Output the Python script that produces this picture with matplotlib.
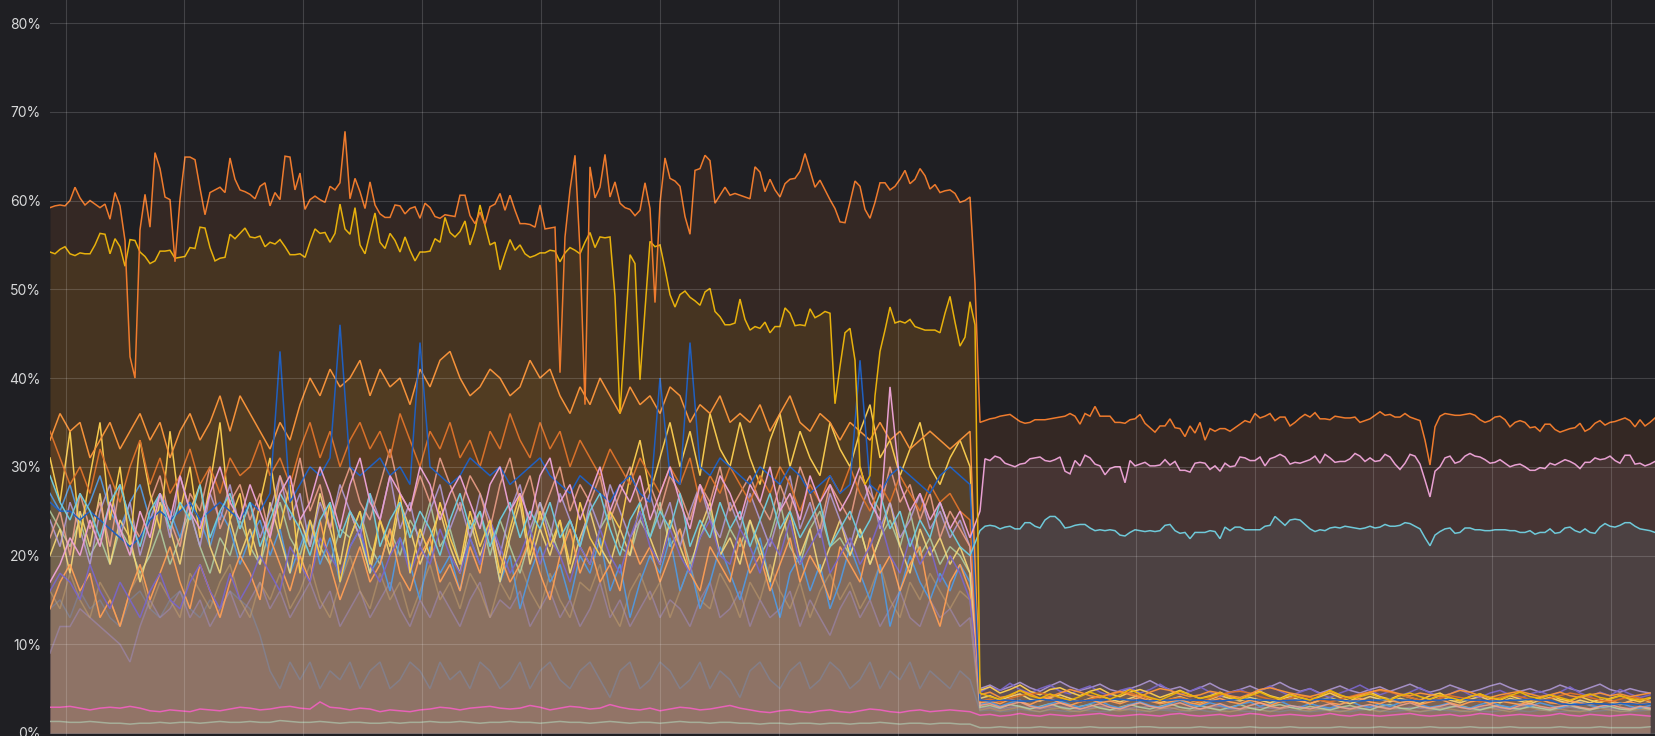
import numpy as np
import matplotlib.pyplot as plt

# time axis: one step = 5 px of the panel, drop happens between t=185 and t=186
t_fine_l = np.arange(0, 186)
t_fine_r = np.arange(186, 322)
t_coarse_l = np.arange(0, 186, 2)
t_coarse_r = np.arange(186, 322, 2)

# ---------------- prominent series
top_orange_l = [
    59.2, 59.4, 59.5, 59.4, 60.0, 61.5, 60.3, 59.5, 60.0, 59.6,
    59.2, 59.6, 57.9, 60.9, 59.4, 55.5, 42.4, 40.0, 56.7, 60.7,
    57.0, 65.4, 63.6, 60.4, 60.1, 53.1, 60.1, 64.9, 64.9, 64.6,
    61.4, 58.4, 60.9, 61.2, 61.5, 60.9, 64.8, 62.4, 61.2, 61.0,
    60.7, 60.2, 61.6, 62.0, 59.4, 60.9, 60.1, 65.0, 64.9, 61.2,
    63.1, 59.0, 60.1, 60.5, 60.1, 59.8, 61.6, 61.2, 62.0, 67.8,
    60.2, 62.5, 61.0, 59.1, 62.1, 59.5, 58.5, 58.1, 58.1, 59.5,
    59.4, 58.5, 59.1, 59.3, 58.0, 59.7, 59.2, 58.2, 58.0, 58.4,
    58.3, 58.2, 60.6, 60.6, 58.3, 57.4, 58.7, 57.3, 59.3, 59.6,
    60.8, 58.9, 60.6, 58.9, 57.4, 57.4, 57.3, 57.0, 59.5, 56.8,
    56.9, 57.0, 40.6, 55.9, 61.2, 65.1, 54.4, 37.0, 63.8, 60.3,
    61.5, 65.2, 60.4, 62.1, 59.7, 59.2, 59.0, 58.3, 58.9, 62.0,
    59.1, 48.5, 59.7, 64.8, 62.5, 62.2, 61.6, 58.2, 56.2, 63.4,
    63.6, 65.1, 64.5, 59.7, 60.6, 61.5, 60.6, 60.8, 60.6, 60.4,
    60.2, 63.8, 63.2, 61.0, 62.4, 61.2, 60.4, 61.9, 62.4, 62.5,
    63.3, 65.3, 63.4, 61.5, 62.3, 61.2, 60.1, 59.1, 57.6, 57.5,
    59.8, 62.2, 61.6, 59.0, 58.0, 59.8, 62.0, 62.0, 61.2, 61.6,
    62.4, 63.4, 61.9, 62.4, 63.6, 62.8, 61.3, 61.8, 60.9, 61.1,
    61.2, 60.8, 59.8, 60.0, 60.4, 50.7]
top_orange_r = [
    35.0, 35.2, 35.4, 35.5, 35.7, 35.8, 35.9, 35.5, 35.1, 34.9,
    35.0, 35.3, 35.3, 35.3, 35.4, 35.5, 35.6, 35.7, 36.0, 35.7,
    34.8, 36.0, 35.7, 36.8, 35.7, 35.7, 35.7, 35.0, 35.0, 34.9,
    35.3, 35.4, 35.9, 34.9, 34.4, 33.9, 34.6, 34.6, 35.4, 34.4,
    34.3, 33.4, 34.6, 33.8, 35.0, 33.0, 34.3, 34.0, 34.3, 34.3,
    34.0, 34.4, 34.8, 35.2, 35.0, 36.0, 35.5, 35.7, 36.0, 35.2,
    35.6, 35.6, 34.6, 35.0, 35.5, 35.9, 35.6, 36.1, 35.4, 35.4,
    35.3, 35.7, 35.6, 35.5, 35.5, 35.6, 35.0, 35.2, 35.4, 35.8,
    36.2, 35.8, 35.9, 35.6, 35.6, 36.0, 35.6, 35.4, 35.2, 33.0,
    30.2, 34.5, 35.7, 36.0, 35.9, 35.8, 35.8, 35.9, 36.0, 35.8,
    35.3, 35.0, 35.2, 35.6, 35.7, 35.3, 34.5, 35.0, 35.2, 35.0,
    34.4, 34.5, 34.0, 34.8, 34.8, 34.2, 33.9, 34.1, 34.3, 34.4,
    34.9, 34.0, 34.3, 34.9, 35.2, 34.7, 35.0, 35.1, 35.3, 35.5,
    35.2, 34.5, 35.3, 34.6, 35.0, 35.5]

yellow_l = [
    54.2, 54.0, 54.5, 54.8, 54.0, 53.8, 54.1, 54.0, 54.0, 55.0,
    56.3, 56.2, 54.0, 55.7, 54.8, 52.6, 55.6, 55.5, 54.2, 53.7,
    52.9, 53.2, 54.3, 54.3, 54.4, 53.5, 53.6, 53.7, 54.7, 54.6,
    57.0, 56.9, 54.7, 53.2, 53.5, 53.6, 56.2, 55.7, 56.3, 56.9,
    55.9, 55.8, 56.0, 54.8, 55.3, 55.1, 55.6, 54.8, 53.9, 53.9,
    54.0, 53.6, 55.3, 56.8, 56.3, 56.4, 55.3, 56.3, 59.6, 56.8,
    56.2, 59.2, 55.0, 54.0, 56.3, 58.6, 55.3, 54.6, 56.3, 55.5,
    54.2, 55.9, 54.4, 53.2, 54.2, 54.2, 54.3, 55.7, 55.3, 58.1,
    56.4, 55.9, 56.5, 57.7, 55.0, 56.7, 59.5, 57.2, 55.0, 55.3,
    52.2, 54.0, 55.6, 54.4, 55.0, 54.0, 53.6, 53.8, 54.1, 54.1,
    54.4, 54.3, 53.1, 54.1, 54.7, 54.4, 54.0, 55.3, 56.4, 54.7,
    55.9, 55.8, 55.9, 49.2, 36.0, 45.0, 53.9, 52.9, 39.8, 47.7,
    55.4, 54.8, 55.0, 52.3, 49.4, 48.0, 49.4, 49.8, 49.1, 48.7,
    48.2, 49.7, 50.1, 47.5, 46.9, 46.0, 46.0, 46.2, 48.9, 46.6,
    45.4, 45.8, 45.6, 46.3, 45.1, 45.8, 45.8, 47.9, 47.3, 45.9,
    46.0, 45.9, 47.8, 46.8, 47.1, 47.5, 47.3, 37.1, 41.3, 45.1,
    45.6, 42.0, 30.0, 28.0, 29.0, 38.0, 43.0, 45.4, 48.0, 46.2,
    46.4, 46.2, 46.6, 45.8, 45.6, 45.4, 45.4, 45.4, 45.1, 47.3,
    49.2, 46.3, 43.6, 44.6, 48.6, 46.0]
yellow_r = [
    4.5, 4.1, 3.8, 4.3, 4.8, 4.2, 3.9, 4.4, 4.0, 3.7,
    4.1, 4.6, 4.2, 3.8, 4.3, 4.9, 4.4, 4.0, 3.7, 4.2,
    4.7, 4.3, 3.9, 4.1, 4.5, 4.0, 3.8, 4.2, 4.6, 4.1,
    3.8, 4.3, 4.0, 3.7, 4.2, 4.8, 4.3, 3.9, 4.1, 4.4,
    4.0, 3.7, 4.2, 4.5, 4.1, 3.8, 4.3, 4.0, 3.7, 4.1,
    4.4, 4.0, 3.8, 4.2, 4.6, 4.1, 3.9, 4.3, 4.0, 3.7,
    4.1, 4.4, 4.0, 3.8, 4.2, 3.9, 3.7, 4.0]

pink_l = [
    17, 19, 22, 20, 24, 21, 26, 23, 20, 25,
    22, 27, 24, 29, 25, 23, 27, 30, 26, 24,
    28, 25, 22, 27, 29, 24, 26, 30, 27, 23,
    28, 31, 26, 24, 29, 27, 25, 30, 28, 24,
    27, 29, 26, 23, 28, 30, 25, 27, 24, 29,
    31, 26, 28, 24, 27, 30, 25, 28, 26, 29,
    24, 27, 30, 26, 23, 28, 25, 29, 27, 24,
    28, 26, 30, 25, 27, 24, 29, 26, 28, 25,
    27, 30, 26, 24, 39, 28, 25, 27, 24, 26,
    23, 25, 22]
pink_r = [
    25.0, 30.9, 30.7, 31.2, 31.0, 30.4, 30.2, 30.0, 30.3, 30.4,
    30.9, 31.0, 31.1, 30.7, 30.6, 30.8, 31.1, 29.5, 29.2, 30.7,
    30.1, 31.3, 31.0, 30.3, 30.1, 29.1, 29.8, 30.0, 30.0, 28.2,
    30.7, 30.1, 30.3, 30.5, 30.1, 30.1, 30.2, 30.8, 30.2, 30.6,
    29.6, 29.6, 29.4, 30.4, 30.5, 30.4, 29.7, 30.1, 29.5, 30.4,
    30.0, 30.1, 31.1, 31.0, 30.7, 30.7, 31.1, 30.1, 30.9, 31.1,
    31.4, 31.1, 30.3, 30.5, 30.4, 30.6, 30.8, 31.2, 30.4, 31.4,
    31.0, 30.5, 30.6, 30.6, 30.9, 31.5, 31.2, 30.6, 31.0, 30.6,
    30.7, 31.4, 31.1, 30.3, 29.7, 30.4, 31.4, 31.2, 30.3, 28.5,
    26.6, 29.5, 30.0, 31.0, 31.2, 30.4, 30.6, 31.2, 31.5, 31.2,
    31.1, 30.8, 30.4, 30.5, 30.8, 30.4, 30.0, 30.2, 30.3, 30.0,
    29.6, 29.6, 29.9, 29.8, 30.4, 30.2, 30.5, 30.8, 30.6, 30.3,
    29.8, 30.5, 30.5, 31.0, 30.8, 30.9, 31.2, 30.7, 30.4, 31.3,
    31.3, 30.3, 30.4, 30.1, 30.3, 30.6]

cyan_l = [
    29, 26, 24, 27, 25, 22, 26, 28, 24, 21,
    25, 27, 23, 26, 24, 28, 22, 25, 27, 23,
    26, 21, 24, 27, 25, 23, 20, 24, 26, 22,
    25, 23, 27, 21, 24, 26, 22, 25, 23, 20,
    24, 27, 23, 25, 21, 24, 26, 22, 25, 23,
    26, 22, 24, 21, 25, 27, 23, 20, 24, 26,
    22, 25, 23, 27, 21, 24, 22, 26, 23, 25,
    21, 24, 27, 23, 25, 22, 24, 26, 21, 23,
    25, 22, 24, 27, 23, 25, 21, 24, 22, 26,
    23, 21, 20]
cyan_r = [
    22.8, 23.3, 23.4, 23.3, 23.0, 23.2, 23.3, 23.0, 23.0, 23.7,
    23.7, 23.3, 23.1, 24.0, 24.4, 24.4, 23.9, 23.1, 23.2, 23.4,
    23.5, 23.5, 23.1, 22.8, 22.9, 22.8, 22.9, 22.8, 22.3, 22.2,
    22.6, 22.9, 22.8, 22.7, 22.8, 22.7, 22.8, 23.4, 23.5, 22.8,
    22.5, 22.6, 21.9, 22.6, 22.6, 22.6, 22.8, 22.7, 21.9, 23.2,
    22.8, 23.2, 23.2, 22.9, 22.9, 22.9, 22.9, 23.3, 23.4, 24.4,
    23.9, 23.4, 24.0, 24.1, 24.0, 23.5, 23.0, 22.7, 22.9, 22.8,
    23.1, 23.2, 23.1, 23.3, 23.2, 23.1, 23.0, 23.1, 23.3, 23.1,
    23.2, 23.5, 23.3, 23.3, 23.4, 23.7, 23.6, 23.3, 23.0, 22.0,
    21.1, 22.3, 22.7, 23.0, 23.1, 22.5, 22.6, 23.1, 23.1, 22.9,
    22.9, 22.8, 22.8, 22.9, 22.9, 22.9, 22.8, 22.8, 22.6, 22.6,
    22.8, 22.4, 22.6, 22.6, 23.0, 22.5, 22.6, 23.1, 23.2, 22.8,
    22.6, 23.0, 22.6, 22.5, 23.2, 23.6, 23.3, 23.2, 23.4, 23.7,
    23.7, 23.3, 23.0, 22.9, 22.8, 22.6]

# ---------------- the busy bundle (estimated)
orange2_l = [
    33, 36, 34, 35, 31, 33, 35, 32, 34, 36,
    33, 35, 31, 34, 36, 33, 35, 38, 34, 38,
    36, 34, 32, 35, 33, 37, 40, 38, 41, 39,
    40, 42, 38, 41, 39, 40, 37, 41, 39, 42,
    43, 40, 38, 39, 41, 40, 38, 39, 42, 40,
    41, 38, 36, 39, 37, 40, 38, 36, 39, 37,
    38, 36, 39, 38, 35, 37, 36, 38, 35, 36,
    35, 37, 34, 36, 38, 35, 34, 36, 35, 33,
    35, 34, 33, 35, 33, 34, 32, 33, 34, 33,
    32, 33, 34]
orange2_r = [
    4.3, 4.6, 4.0, 4.2, 4.8, 4.4, 3.9, 4.1, 4.5, 4.9,
    4.6, 4.2, 4.0, 4.4, 4.7, 4.3, 4.1, 4.6, 5.0, 4.8,
    4.4, 4.1, 4.3, 4.7, 4.5, 4.2, 4.0, 4.4, 4.9, 5.1,
    4.8, 4.5, 4.3, 4.1, 4.4, 4.7, 4.2, 4.0, 4.3, 4.6,
    4.9, 4.7, 4.4, 4.2, 4.5, 4.3, 4.1, 4.4, 4.8, 4.6,
    4.2, 4.0, 4.3, 4.5, 4.7, 4.4, 4.1, 4.3, 4.6, 4.2,
    4.0, 4.3, 4.5, 4.2, 4.4, 4.1, 4.3, 4.5]

orange3_l = [
    34, 31, 28, 30, 27, 32, 29, 26, 30, 33,
    28, 31, 27, 29, 32, 28, 30, 27, 31, 29,
    30, 33, 29, 31, 28, 32, 35, 31, 34, 30,
    33, 35, 32, 34, 31, 36, 33, 30, 34, 32,
    35, 31, 33, 30, 34, 32, 36, 33, 31, 35,
    32, 34, 30, 33, 31, 29, 32, 30, 28, 31,
    29, 27, 30, 28, 31, 26, 29, 27, 30, 28,
    26, 29, 27, 30, 28, 25, 28, 26, 29, 27,
    30, 27, 25, 28, 26, 29, 27, 25, 28, 26,
    27, 25, 24]
orange3_r = [
    3.6, 3.8, 3.5, 3.9, 4.2, 4.4, 4.5, 4.3, 4.0, 3.7,
    3.5, 3.8, 4.1, 4.4, 4.6, 4.5, 4.2, 3.9, 3.6, 3.8,
    4.0, 3.7, 3.5, 3.9, 4.3, 4.6, 4.7, 4.5, 4.1, 3.8,
    3.6, 3.9, 4.2, 4.0, 3.7, 3.5, 3.8, 4.1, 4.4, 4.6,
    4.8, 4.6, 4.3, 4.0, 3.7, 3.6, 3.9, 4.2, 4.0, 3.8,
    3.5, 3.7, 4.0, 4.3, 4.1, 3.8, 3.6, 3.9, 4.2, 4.5,
    4.3, 4.0, 3.7, 3.5, 3.8, 4.1, 3.9, 3.6]

yellow2_l = [
    31, 26, 34, 22, 29, 35, 24, 30, 21, 33,
    27, 23, 34, 25, 30, 22, 28, 35, 24, 27,
    20, 26, 31, 23, 28, 18, 24, 20, 26, 17,
    22, 25, 19, 24, 21, 27, 18, 23, 20, 26,
    22, 19, 25, 21, 24, 18, 23, 27, 20, 25,
    21, 24, 19, 26, 22, 20, 25, 23, 29, 33,
    27, 31, 35, 30, 34, 29, 36, 32, 30, 35,
    31, 28, 33, 36, 30, 34, 31, 29, 35, 32,
    30, 34, 37, 31, 33, 29, 32, 35, 30, 28,
    31, 33, 30]
yellow2_r = [
    4.8, 5.2, 4.5, 4.9, 5.4, 4.7, 4.3, 4.9, 5.1, 4.6,
    4.2, 4.7, 5.0, 4.4, 4.1, 4.6, 4.9, 4.5, 4.0, 4.4,
    4.8, 4.3, 3.9, 4.2, 4.6, 4.1, 3.8, 4.3, 4.7, 4.2,
    3.9, 4.4, 4.0, 3.7, 4.1, 4.5, 4.0, 3.6, 4.2, 4.6,
    4.1, 3.8, 4.3, 4.0, 3.7, 4.2, 4.5, 3.9, 3.6, 4.1,
    4.4, 3.9, 3.7, 4.2, 3.8, 3.5, 4.0, 4.3, 3.8, 3.6,
    4.1, 3.7, 3.4, 3.9, 4.2, 3.8, 3.5, 3.9]

blue_l = [
    26, 25, 25, 24, 25, 24, 23, 22, 21, 22,
    24, 25, 24, 25, 26, 24, 25, 26, 25, 24,
    26, 25, 27, 43, 26, 28, 30, 29, 31, 46,
    30, 29, 30, 31, 29, 30, 28, 44, 30, 29,
    28, 29, 31, 30, 29, 30, 28, 29, 30, 31,
    29, 28, 27, 29, 28, 27, 26, 28, 29, 27,
    26, 40, 29, 28, 44, 30, 29, 31, 30, 29,
    28, 30, 29, 28, 30, 29, 27, 28, 29, 27,
    28, 42, 28, 27, 29, 30, 29, 28, 27, 29,
    30, 29, 28]
blue_r = [
    3.7, 3.6, 3.7, 3.7, 3.6, 3.6, 3.8, 3.7, 3.7, 3.6,
    3.6, 3.7, 3.7, 3.8, 3.8, 3.7, 3.7, 3.6, 3.7, 3.7,
    3.8, 3.7, 3.7, 3.6, 3.6, 3.7, 3.8, 3.8, 3.7, 3.7,
    3.6, 3.7, 3.7, 3.7, 3.8, 3.8, 3.7, 3.6, 3.6, 3.7,
    3.7, 3.8, 3.7, 3.7, 3.6, 3.7, 3.7, 3.8, 3.8, 3.7,
    3.7, 3.6, 3.6, 3.7, 3.7, 3.8, 3.7, 3.7, 3.3, 3.2,
    3.2, 3.3, 3.3, 3.2, 3.3, 3.3, 3.2, 3.3]

violet_l = [
    16, 18, 17, 15, 19, 16, 14, 17, 15, 13,
    16, 18, 15, 14, 17, 19, 16, 14, 18, 15,
    17, 20, 18, 16, 21, 19, 17, 22, 20, 18,
    21, 23, 19, 17, 20, 22, 18, 21, 19, 23,
    20, 18, 22, 19, 24, 21, 18, 20, 23, 19,
    22, 20, 17, 21, 19, 23, 20, 18, 22, 25,
    21, 19, 23, 20, 18, 22, 24, 20, 19, 23,
    21, 18, 22, 20, 24, 19, 21, 23, 18, 20,
    22, 19, 21, 24, 20, 18, 22, 19, 21, 17,
    20, 18, 15]
violet_r = [
    4.6, 5.2, 4.8, 5.6, 4.9, 4.5, 5.0, 5.4, 4.7, 4.4,
    4.9, 5.3, 4.6, 4.2, 4.8, 5.1, 4.5, 4.9, 5.5, 4.8,
    4.3, 4.7, 5.2, 4.6, 4.1, 4.5, 4.9, 4.4, 4.8, 5.3,
    4.7, 4.2, 4.6, 5.0, 4.4, 4.0, 4.5, 4.9, 5.4, 4.8,
    4.3, 4.7, 4.2, 4.6, 5.1, 4.5, 4.1, 4.4, 4.9, 4.3,
    4.0, 4.5, 4.8, 4.3, 3.9, 4.4, 4.7, 4.2, 4.6, 5.2,
    4.5, 4.1, 4.6, 4.2, 4.9, 4.4, 4.0, 4.3]

lviolet_l = [
    24, 21, 26, 23, 19, 25, 28, 22, 26, 20,
    24, 27, 22, 29, 25, 21, 27, 24, 28, 23,
    26, 22, 25, 29, 24, 27, 21, 26, 23, 28,
    25, 22, 27, 24, 29, 23, 26, 21, 25, 28,
    23, 26, 22, 27, 24, 20, 25, 28, 23, 26,
    22, 27, 24, 21, 26, 23, 28, 25, 22, 24,
    27, 23, 26, 21, 25, 28, 24, 22, 26, 23,
    27, 24, 21, 25, 29, 23, 26, 22, 27, 24,
    21, 25, 28, 23, 26, 22, 24, 27, 23, 25,
    22, 24, 21]
lviolet_r = [
    5.0, 5.4, 4.8, 5.2, 5.7, 5.1, 4.7, 5.3, 5.8, 5.2,
    4.8, 5.1, 5.5, 4.9, 4.6, 5.0, 5.4, 5.9, 5.3, 4.9,
    5.2, 4.7, 5.1, 5.6, 5.0, 4.6, 4.9, 5.3, 4.8, 5.2,
    5.7, 5.1, 4.7, 5.0, 4.5, 4.9, 5.3, 4.8, 4.5, 4.9,
    5.2, 4.7, 5.1, 5.5, 5.0, 4.6, 4.9, 5.4, 5.0, 4.6,
    4.9, 5.3, 5.6, 5.1, 4.7, 5.0, 4.6, 4.9, 5.4, 5.0,
    4.7, 5.1, 5.5, 4.9, 4.6, 5.0, 4.7, 4.5]

lorange_l = [
    14, 17, 19, 16, 18, 13, 15, 12, 16, 19,
    15, 18, 21, 17, 14, 19, 16, 13, 17, 20,
    18, 15, 22, 19, 16, 20, 17, 24, 19, 15,
    18, 21, 17, 19, 23, 18, 16, 20, 22, 17,
    19, 16, 21, 18, 24, 20, 17, 19, 22, 18,
    15, 20, 23, 18, 21, 17, 19, 16, 22, 19,
    21, 17, 20, 23, 18, 16, 21, 19, 17, 22,
    18, 20, 16, 19, 22, 17, 20, 18, 15, 21,
    19, 17, 22, 18, 20, 16, 19, 21, 15, 12,
    17, 19, 16]
lorange_r = [
    3.4, 3.6, 3.3, 3.8, 3.5, 3.2, 3.7, 3.9, 3.4, 3.1,
    3.5, 3.8, 3.4, 3.6, 3.3, 3.7, 4.0, 3.6, 3.3, 3.5,
    3.8, 3.4, 3.2, 3.6, 3.9, 3.5, 3.3, 3.7, 3.4, 3.1,
    3.5, 3.8, 3.6, 3.3, 3.7, 3.4, 3.2, 3.6, 3.9, 3.5,
    3.3, 3.7, 3.4, 3.6, 3.2, 3.5, 3.8, 3.4, 3.1, 3.5,
    3.7, 3.3, 3.6, 3.4, 3.2, 3.6, 3.8, 3.4, 3.3, 3.6,
    3.4, 3.2, 3.5, 3.7, 3.3, 3.5, 3.2, 3.4]

lyellow_l = [
    20, 23, 18, 25, 21, 27, 19, 24, 22, 17,
    21, 26, 23, 19, 25, 28, 21, 18, 24, 20,
    23, 19, 26, 22, 18, 24, 21, 27, 23, 19,
    25, 22, 18, 24, 20, 26, 23, 19, 22, 25,
    21, 18, 24, 20, 23, 17, 22, 26, 19, 23,
    20, 24, 18, 22, 25, 21, 19, 23, 20, 26,
    22, 19, 24, 21, 18, 23, 26, 20, 22, 19,
    24, 21, 17, 22, 25, 20, 23, 18, 21, 24,
    20, 23, 19, 22, 26, 21, 18, 23, 20, 22,
    19, 21, 18]
lyellow_r = [
    3.9, 4.2, 3.7, 4.1, 4.4, 3.8, 3.6, 4.0, 4.3, 3.9,
    3.5, 3.9, 4.2, 3.8, 3.5, 3.9, 4.3, 3.8, 3.4, 3.8,
    4.1, 3.7, 3.4, 3.8, 4.2, 3.9, 3.6, 4.0, 3.7, 3.4,
    3.8, 4.1, 3.7, 3.3, 3.7, 4.0, 3.6, 3.3, 3.7, 4.1,
    3.8, 3.5, 3.9, 3.6, 3.3, 3.8, 4.2, 3.7, 3.4, 3.8,
    4.1, 3.7, 3.4, 3.9, 3.6, 3.3, 3.7, 4.0, 3.6, 3.3,
    3.7, 3.4, 3.8, 3.5, 3.2, 3.6, 3.9, 3.5]

skyblue_l = [
    27, 25, 28, 24, 26, 29, 25, 23, 26, 28,
    24, 27, 25, 22, 26, 24, 21, 25, 23, 19,
    22, 24, 20, 23, 18, 21, 24, 19, 22, 17,
    21, 23, 18, 20, 16, 22, 19, 15, 21, 18,
    20, 16, 22, 19, 23, 17, 20, 14, 18, 21,
    17, 19, 15, 20, 18, 22, 16, 19, 13, 17,
    20, 18, 22, 16, 19, 14, 17, 21, 18, 15,
    19, 22, 17, 13, 18, 20, 16, 19, 14, 17,
    21, 18, 15, 19, 12, 16, 20, 17, 15, 18,
    16, 19, 17]
skyblue_r = [
    3.2, 3.5, 3.0, 3.4, 3.7, 3.1, 2.9, 3.3, 3.6, 3.2,
    2.9, 3.3, 3.6, 3.1, 2.8, 3.2, 3.5, 3.1, 2.9, 3.3,
    3.7, 3.2, 3.0, 3.4, 3.1, 2.8, 3.2, 3.5, 3.0, 3.3,
    3.6, 3.1, 2.9, 3.3, 3.0, 2.8, 3.2, 3.6, 3.1, 2.9,
    3.3, 3.0, 3.4, 3.7, 3.2, 2.9, 3.1, 3.4, 3.0, 2.8,
    3.2, 3.5, 3.1, 2.9, 3.3, 3.0, 3.4, 3.1, 2.8, 3.2,
    3.5, 3.1, 2.9, 3.2, 3.4, 3.0, 2.8, 3.1]

salmon_l = [
    22, 25, 20, 27, 23, 26, 21, 28, 24, 22,
    26, 29, 24, 21, 27, 25, 30, 23, 26, 28,
    24, 27, 22, 29, 26, 31, 25, 28, 23, 27,
    30, 26, 24, 28, 32, 27, 25, 29, 26, 31,
    28, 25, 29, 27, 23, 28, 31, 26, 29, 24,
    27, 30, 25, 28, 26, 29, 24, 27, 30, 26,
    28, 25, 29, 27, 24, 28, 26, 30, 25, 27,
    29, 26, 24, 28, 25, 30, 27, 23, 28, 26,
    24, 29, 27, 25, 30, 26, 28, 24, 27, 22,
    25, 23, 21]
salmon_r = [
    3.1, 3.3, 2.9, 3.2, 3.5, 3.0, 2.8, 3.1, 3.4, 3.0,
    2.7, 3.0, 3.3, 2.9, 2.7, 3.1, 3.4, 3.0, 2.8, 3.1,
    3.4, 3.0, 2.7, 3.0, 3.3, 2.9, 2.7, 3.1, 3.4, 3.0,
    2.8, 3.1, 2.9, 2.7, 3.0, 3.3, 2.9, 2.7, 3.0, 3.2,
    2.9, 2.7, 3.1, 3.4, 3.0, 2.8, 3.0, 3.3, 2.9, 2.7,
    3.0, 3.2, 2.9, 2.7, 3.1, 3.3, 3.0, 2.8, 3.0, 3.2,
    2.9, 2.7, 3.0, 3.2, 2.9, 2.7, 3.0, 2.8]

pgreen_l = [
    25, 23, 21, 24, 20, 22, 19, 23, 21, 18,
    20, 23, 19, 22, 25, 21, 18, 22, 20, 24,
    21, 19, 23, 26, 22, 20, 24, 21, 19, 23,
    22, 25, 21, 19, 23, 20, 24, 22, 26, 21,
    23, 19, 22, 25, 20, 24, 21, 18, 22, 26,
    23, 20, 24, 21, 19, 23, 25, 21, 20, 24,
    22, 26, 21, 23, 19, 22, 25, 20, 23, 21,
    24, 20, 22, 26, 21, 19, 23, 25, 21, 22,
    20, 23, 19, 22, 24, 21, 25, 20, 22, 19,
    21, 20, 18]
pgreen_r = [
    2.9, 3.1, 2.8, 3.2, 3.0, 2.7, 3.0, 3.3, 2.9, 2.7,
    3.0, 3.2, 2.8, 2.6, 2.9, 3.2, 2.9, 2.7, 3.0, 3.3,
    2.9, 2.7, 3.1, 2.8, 2.6, 2.9, 3.2, 2.8, 2.6, 3.0,
    3.2, 2.9, 2.7, 3.0, 2.8, 2.6, 2.9, 3.1, 2.8, 2.6,
    3.0, 3.2, 2.8, 2.7, 3.0, 2.8, 2.6, 2.9, 3.1, 2.8,
    2.6, 2.9, 3.1, 2.8, 2.7, 3.0, 2.8, 2.6, 2.9, 3.1,
    2.8, 2.6, 2.9, 3.0, 2.7, 2.6, 2.9, 2.7]

mauve_l = [
    9, 12, 12, 14, 13, 12, 11, 10, 8, 12,
    15, 13, 14, 16, 13, 15, 12, 14, 16, 13,
    15, 17, 14, 16, 13, 15, 17, 14, 16, 12,
    14, 16, 13, 15, 17, 14, 12, 15, 13, 16,
    14, 12, 15, 17, 13, 15, 14, 16, 12, 14,
    16, 13, 15, 12, 14, 17, 13, 15, 12, 14,
    16, 13, 15, 14, 12, 15, 17, 13, 14, 16,
    12, 15, 13, 14, 16, 12, 15, 13, 11, 14,
    16, 13, 15, 12, 14, 16, 13, 12, 15, 13,
    14, 12, 13]
mauve_r = [
    2.8, 2.9, 2.7, 2.9, 3.0, 2.8, 2.7, 2.9, 3.0, 2.8,
    2.7, 2.8, 3.0, 2.9, 2.7, 2.8, 2.9, 3.0, 2.8, 2.7,
    2.9, 2.8, 2.7, 2.9, 3.0, 2.8, 2.7, 2.8, 2.9, 2.8,
    2.7, 2.9, 3.0, 2.8, 2.7, 2.8, 2.9, 2.8, 2.7, 2.9,
    3.0, 2.8, 2.7, 2.9, 2.8, 2.7, 2.8, 3.0, 2.9, 2.7,
    2.8, 2.9, 2.8, 2.7, 2.9, 3.0, 2.8, 2.7, 2.8, 2.9,
    2.8, 2.7, 2.9, 2.8, 2.7, 2.8, 2.9, 2.8]

greyblue_l = [
    14, 15, 13, 16, 14, 15, 13, 12, 15, 16,
    14, 13, 15, 16, 14, 13, 15, 14, 16, 15,
    14, 11, 7, 5, 8, 6, 8, 5, 7, 6,
    8, 5, 7, 8, 5, 6, 8, 7, 5, 8,
    6, 7, 5, 8, 7, 5, 6, 8, 5, 7,
    8, 6, 5, 7, 8, 6, 4, 7, 8, 5,
    6, 8, 7, 5, 6, 8, 5, 7, 6, 4,
    7, 8, 6, 5, 7, 8, 5, 6, 8, 7,
    5, 6, 8, 5, 7, 6, 8, 5, 7, 6,
    5, 7, 6]
greyblue_r = [
    2.5, 2.6, 2.4, 2.5, 2.7, 2.5, 2.4, 2.6, 2.5, 2.4,
    2.6, 2.5, 2.4, 2.5, 2.7, 2.6, 2.4, 2.5, 2.6, 2.5,
    2.4, 2.5, 2.6, 2.4, 2.5, 2.7, 2.5, 2.4, 2.6, 2.5,
    2.4, 2.6, 2.5, 2.4, 2.5, 2.6, 2.5, 2.4, 2.6, 2.7,
    2.5, 2.4, 2.5, 2.6, 2.4, 2.5, 2.6, 2.5, 2.4, 2.6,
    2.5, 2.4, 2.5, 2.7, 2.5, 2.4, 2.6, 2.5, 2.4, 2.5,
    2.6, 2.4, 2.5, 2.6, 2.5, 2.4, 2.5, 2.6]

tan_l = [
    16, 14, 18, 15, 13, 17, 15, 12, 16, 18,
    14, 17, 15, 13, 18, 16, 14, 17, 19, 15,
    13, 17, 15, 18, 14, 16, 19, 15, 13, 17,
    20, 16, 14, 18, 15, 17, 13, 16, 19, 15,
    17, 14, 18, 16, 13, 17, 15, 19, 16, 14,
    18, 15, 13, 17, 16, 19, 14, 12, 16, 18,
    15, 17, 13, 16, 19, 15, 14, 18, 16, 13,
    17, 15, 19, 16, 14, 17, 13, 16, 18, 15,
    17, 14, 16, 19, 15, 13, 17, 15, 18, 16,
    14, 16, 15]
tan_r = [
    2.6, 2.8, 2.5, 2.7, 2.9, 2.6, 2.4, 2.7, 2.8, 2.5,
    2.4, 2.7, 2.9, 2.6, 2.5, 2.7, 2.6, 2.4, 2.7, 2.9,
    2.6, 2.5, 2.7, 2.8, 2.5, 2.4, 2.6, 2.8, 2.6, 2.4,
    2.7, 2.9, 2.6, 2.5, 2.7, 2.5, 2.4, 2.6, 2.8, 2.6,
    2.4, 2.7, 2.8, 2.5, 2.4, 2.6, 2.8, 2.7, 2.5, 2.4,
    2.6, 2.8, 2.6, 2.4, 2.7, 2.9, 2.6, 2.5, 2.7, 2.5,
    2.4, 2.6, 2.8, 2.6, 2.4, 2.5, 2.7, 2.6]

bpink_l = [
    2.9, 2.9, 3.0, 2.8, 2.6, 2.8, 2.9, 2.8, 3.0, 2.8,
    2.5, 2.4, 2.6, 2.5, 2.4, 2.7, 2.6, 2.5, 2.7, 2.9,
    2.8, 2.6, 2.7, 2.9, 3.0, 2.8, 2.7, 3.5, 2.9, 2.8,
    2.6, 2.8, 2.7, 2.4, 2.6, 2.5, 2.4, 2.6, 2.7, 2.9,
    2.8, 2.6, 2.8, 2.9, 3.0, 2.8, 2.7, 2.8, 3.1, 2.9,
    2.6, 2.8, 3.0, 2.9, 2.7, 2.8, 3.2, 2.9, 2.7, 2.6,
    2.8, 2.5, 2.7, 2.9, 2.8, 2.6, 2.7, 2.9, 3.1, 2.8,
    2.6, 2.4, 2.3, 2.5, 2.6, 2.4, 2.3, 2.5, 2.6, 2.4,
    2.3, 2.5, 2.7, 2.6, 2.4, 2.3, 2.5, 2.6, 2.4, 2.5,
    2.6, 2.5, 2.4]
bpink_r = [
    2.0, 2.1, 1.9, 2.0, 2.2, 2.0, 1.9, 2.1, 2.0, 1.9,
    2.0, 2.1, 2.2, 2.0, 1.9, 2.0, 2.1, 2.0, 1.9, 2.1,
    2.2, 2.0, 1.9, 2.0, 2.1, 1.9, 2.0, 2.2, 2.1, 1.9,
    2.0, 2.1, 2.0, 1.9, 2.0, 2.2, 2.0, 1.9, 2.1, 2.0,
    1.9, 2.0, 2.1, 2.2, 2.0, 1.9, 2.0, 2.1, 1.9, 2.0,
    2.2, 2.1, 1.9, 2.0, 2.1, 2.0, 1.9, 2.0, 2.2, 2.0,
    1.9, 2.1, 2.0, 1.9, 2.0, 2.1, 2.0, 1.9]

bgrey_l = [
    1.3, 1.3, 1.2, 1.2, 1.3, 1.2, 1.1, 1.1, 1.0, 1.1,
    1.1, 1.2, 1.1, 1.2, 1.2, 1.1, 1.2, 1.3, 1.2, 1.2,
    1.3, 1.2, 1.2, 1.4, 1.3, 1.2, 1.2, 1.3, 1.2, 1.1,
    1.2, 1.2, 1.1, 1.1, 1.2, 1.1, 1.2, 1.2, 1.3, 1.2,
    1.2, 1.3, 1.2, 1.1, 1.2, 1.2, 1.3, 1.2, 1.2, 1.1,
    1.2, 1.3, 1.2, 1.2, 1.1, 1.2, 1.3, 1.2, 1.1, 1.2,
    1.2, 1.1, 1.2, 1.3, 1.2, 1.2, 1.1, 1.2, 1.2, 1.1,
    1.1, 1.0, 1.1, 1.1, 1.0, 1.1, 1.1, 1.0, 1.1, 1.1,
    1.0, 1.1, 1.1, 1.2, 1.1, 1.0, 1.1, 1.1, 1.0, 1.1,
    1.1, 1.0, 1.0]
bgrey_r = [
    0.6, 0.6, 0.7, 0.6, 0.6, 0.6, 0.7, 0.6, 0.6, 0.6,
    0.6, 0.7, 0.6, 0.6, 0.6, 0.6, 0.7, 0.7, 0.6, 0.6,
    0.6, 0.6, 0.7, 0.6, 0.6, 0.6, 0.6, 0.7, 0.6, 0.6,
    0.6, 0.7, 0.6, 0.6, 0.6, 0.6, 0.7, 0.6, 0.6, 0.6,
    0.7, 0.6, 0.6, 0.6, 0.6, 0.7, 0.6, 0.6, 0.6, 0.7,
    0.6, 0.6, 0.6, 0.7, 0.6, 0.6, 0.6, 0.6, 0.7, 0.6,
    0.6, 0.6, 0.7, 0.6, 0.6, 0.6, 0.6, 0.7]

y_ticks = [0, 10, 20, 30, 40, 50, 60, 70, 80]

BG = '#1f1f23'

# (left, right, colour, line alpha, fill alpha) for the bundle, drawn back to front
bundle = [
    (bgrey_l, bgrey_r, '#a9b59f', 0.9, 0.1),
    (bpink_l, bpink_r, '#e862b8', 1.0, 0.1),
    (greyblue_l, greyblue_r, '#7e8aa8', 0.55, 0.09),
    (mauve_l, mauve_r, '#a08ab8', 0.6, 0.1),
    (tan_l, tan_r, '#c8a470', 0.5, 0.03),
    (pgreen_l, pgreen_r, '#b5d8a8', 0.8, 0.04),
    (skyblue_l, skyblue_r, '#5299e0', 0.95, 0.07),
    (lyellow_l, lyellow_r, '#f7d878', 0.9, 0.03),
    (lorange_l, lorange_r, '#ff9f55', 0.95, 0.03),
    (lviolet_l, lviolet_r, '#b49ddc', 0.85, 0.1),
    (violet_l, violet_r, '#7a66c7', 0.95, 0.08),
    (salmon_l, salmon_r, '#f3a38e', 0.85, 0.05),
    (yellow2_l, yellow2_r, '#f6c94e', 1.0, 0.035),
    (orange3_l, orange3_r, '#d9712a', 1.0, 0.05),
    (orange2_l, orange2_r, '#f5923a', 1.0, 0.07),
    (blue_l, blue_r, '#1f5fc0', 1.0, 0.06),
]

fig = plt.figure(figsize=(16.56, 7.36), dpi=100, facecolor=BG)
ax = fig.add_axes([50 / 1656, 0, 1 - 50 / 1656, 1])
ax.set_facecolor(BG)


def series(x, y, color, la=1.0, fa=0.08):
    ax.fill_between(x, 0, y, color=color, alpha=fa, lw=0)
    ax.plot(x, y, color=color, lw=1.1, alpha=la, solid_joinstyle='miter')


x_coarse = np.concatenate([t_coarse_l, t_coarse_r])
for left, right, col, la, fa in bundle:
    series(x_coarse, np.array(left + right), col, la, fa)

series(np.concatenate([t_coarse_l, t_fine_r]), np.array(cyan_l + cyan_r), '#6fc9d9', fa=0.1)
series(np.concatenate([t_coarse_l, t_fine_r]), np.array(pink_l + pink_r), '#e8a0d2', fa=0.1)
series(np.concatenate([t_fine_l, t_coarse_r]), np.array(yellow_l + yellow_r), '#e8b10c', fa=0.1)
series(np.concatenate([t_fine_l, t_fine_r]), np.array(top_orange_l + top_orange_r), '#ef7b2d', fa=0.1)

ax.set_xlim(0, 321.2)
ax.set_ylim(-0.34, 82.6)
ax.set_xticks(np.arange(3.1, 322, 23.78))
ax.set_yticks(y_ticks)
ax.set_yticklabels([f'{v}%' for v in y_ticks])
ax.tick_params(axis='x', length=0, labelbottom=False)
ax.tick_params(axis='y', length=0, pad=6.5, labelsize=10, labelcolor='#d8d9da')
for lab in ax.get_yticklabels():
    lab.set_family(['Inter', 'DejaVu Sans'])
ax.grid(True, color='white', alpha=0.16, lw=0.8)
ax.set_axisbelow(False)
for s in ax.spines.values():
    s.set_visible(False)

plt.savefig('out.png', dpi=100, facecolor=BG)
